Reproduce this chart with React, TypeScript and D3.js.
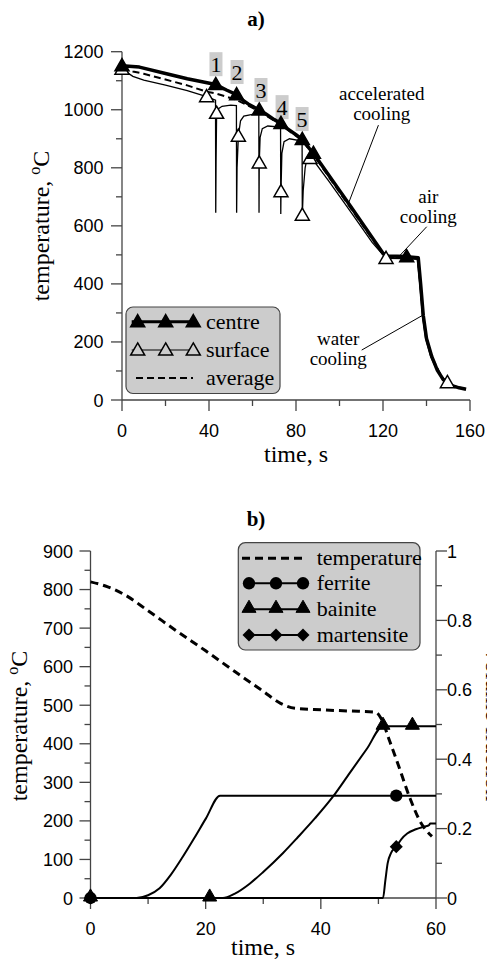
import React from "react";
import * as d3 from "d3";

const SERIF = "'Liberation Serif', 'Times New Roman', serif";
const SANS = "'Liberation Sans', Arial, sans-serif";

// ---------- Chart a) data ----------
const aXTicks = [0, 40, 80, 120, 160];
const aXMinor = [20, 60, 100, 140];
const aYTicks = [0, 200, 400, 600, 800, 1000, 1200];
const aYMinor = [100, 300, 500, 700, 900, 1100];

const centreLine: [number, number][] = [
  [0, 1152], [8, 1147], [20, 1125], [30, 1107], [43.1, 1087], [48, 1068], [52.7, 1052],
  [55, 1036], [58, 1020], [63.1, 999], [66, 986], [70, 966], [73.1, 953], [76, 935],
  [80, 914], [82.9, 898], [86, 868], [88, 850], [95, 775], [100, 722], [105, 668],
  [110, 614], [115, 560], [120, 506], [122, 496], [131, 494], [136.2, 490], [137.3, 400],
  [138.5, 292], [140, 212], [142.4, 150], [145, 102], [147.7, 70], [151, 51], [155, 42], [158.2, 37],
];
const centreMarkers: [number, number][] = [
  [0, 1152], [43.1, 1087], [52.7, 1052], [63.1, 999], [73.1, 953], [82.9, 898], [88, 850], [130.9, 494],
];

const surfaceLine: [number, number][] = [
  [0, 1140], [5, 1115], [10, 1102], [20, 1085], [30, 1066], [38.9, 1045], [43.0, 1033],
  [43.1, 645], [43.25, 820], [43.5, 988], [44.2, 1003], [46, 1012], [50, 1016], [52.6, 1014],
  [52.7, 645], [52.9, 800], [53.5, 909], [54.5, 962], [56, 978], [60, 984], [62.9, 985],
  [63.0, 645], [63.1, 817], [63.5, 905], [64.5, 935], [67, 944], [72.9, 940],
  [73.0, 641], [73.1, 718], [73.5, 850], [74.5, 890], [77, 900], [82.8, 892],
  [82.9, 631], [83.3, 720], [84.2, 800], [85, 830], [86.4, 832], [88, 826], [95, 755],
  [105, 650], [115, 543], [121.4, 488], [130, 487], [135.8, 485], [136.9, 400],
  [138.1, 292], [139.6, 212], [142, 148], [145, 100], [149.6, 60], [153, 47], [157, 40],
];
const surfaceMarkers: [number, number][] = [
  [0, 1140], [38.9, 1045], [43.5, 988], [53.5, 909], [63.1, 817], [73.1, 718], [82.9, 637],
  [86.4, 832], [121.4, 488], [149.6, 60],
];

const averageLine: [number, number][] = [
  [0, 1143], [5, 1132], [10, 1124], [20, 1104], [30, 1084], [38.9, 1062], [43.1, 1056],
  [52.7, 1034], [58, 1014], [63.1, 994], [73.1, 948], [82.9, 894], [88, 845], [120, 502],
  [122, 492], [136, 488], [137.1, 405], [138.3, 295], [140, 213], [142.4, 149],
  [147.7, 69], [152, 48], [158, 38],
];

const passNames = ["1", "2", "3", "4", "5"];
const passTimes = [43.2, 52.9, 63.9, 73.6, 82.8];
const passLabelT = [1157, 1130, 1068, 1009, 968];

const annotations = [
  { lines: ["accelerated", "cooling"], t: 119.4, T: [1033, 964], from: [117.9, 947], to: [104.1, 677] },
  { lines: ["air", "cooling"], t: 140.8, T: [679, 610], from: [140.1, 597], to: [127.9, 499] },
  { lines: ["water", "cooling"], t: 99.4, T: [190, 121], from: [110.2, 172], to: [138.5, 293] },
];

const aLegendItems = ["centre", "surface", "average"];

// ---------- Chart b) data ----------
const bXTicks = [0, 20, 40, 60];
const bXMinor = [10, 30, 50];
const bYTicks = [0, 100, 200, 300, 400, 500, 600, 700, 800, 900];
const bYMinor = [50, 150, 250, 350, 450, 550, 650, 750, 850];
const bRTicks = [0, 0.2, 0.4, 0.6, 0.8, 1];
const bRTickLabels = ["0", "0.2", "0.4", "0.6", "0.8", "1"];
const bRMinor = [0.1, 0.3, 0.5, 0.7, 0.9];

const temperatureB: [number, number][] = [
  [0, 820], [3, 807], [6, 786], [10, 745], [15, 692], [20, 641], [25, 588], [30, 536],
  [33, 505], [35.5, 492], [40, 488], [45, 485], [49.5, 482], [50.5, 465], [52, 405],
  [53.5, 343], [55.5, 258], [57.5, 192], [58.5, 172], [59.3, 160],
];
const ferriteB: [number, number][] = [
  [0, 0], [8, 0], [10, 0.008], [12, 0.028], [14, 0.068], [16, 0.118], [18, 0.172],
  [20, 0.228], [22.5, 0.295], [60, 0.295],
];
const bainiteB: [number, number][] = [
  [0, 0], [23, 0], [25, 0.012], [27.7, 0.042], [30, 0.075], [33.4, 0.129], [36, 0.175],
  [39, 0.23], [42.1, 0.292], [45, 0.36], [48, 0.43], [50.8, 0.495], [60, 0.495],
];
const martensiteB: [number, number][] = [
  [0, 0], [50.8, 0], [51.2, 0.05], [51.6, 0.1], [52.2, 0.13], [53.1, 0.148], [54, 0.17],
  [55, 0.186], [56.5, 0.198], [58, 0.206], [58.8, 0.21], [59, 0.215], [60, 0.215],
];
const ferriteMarkers: [number, number][] = [[0, 0], [53.1, 0.295]];
const bainiteMarkers: [number, number][] = [[0, 0], [20.7, 0], [50.8, 0.495], [55.9, 0.495]];
const martensiteMarkers: [number, number][] = [[0, 0], [53.1, 0.148]];
const bLegendItems = ["temperature", "ferrite", "bainite", "martensite"];

// ---------- scales ----------
const xA = d3.scaleLinear().domain([0, 160]).range([122, 470]);
const yA = d3.scaleLinear().domain([0, 1200]).range([400, 51.7]);
const xB = d3.scaleLinear().domain([0, 60]).range([90.5, 436]);
const yBL = d3.scaleLinear().domain([0, 900]).range([898, 551]);
const yBR = d3.scaleLinear().domain([0, 1]).range([898, 551]);

const AX = "#444";
const triPath = d3.symbol(d3.symbolTriangle, 85)() as string;
const circPath = d3.symbol(d3.symbolCircle, 120)() as string;
const sqPath = d3.symbol(d3.symbolSquare, 85)() as string;

function TempLabel({ x, y }: { x: number; y: number }) {
  return (
    <text transform={`translate(${x},${y}) rotate(-90)`} textAnchor="middle" style={{ fontFamily: SERIF }} fontSize={24} fill="#000">
      temperature,{" "}
      <tspan fontSize={16} dy={-9}>o</tspan>
      <tspan fontSize={24} dy={9}>C</tspan>
    </text>
  );
}

export default function App() {
  const lineA = d3.line<[number, number]>().x((d) => xA(d[0])).y((d) => yA(d[1]));
  const lineBL = d3.line<[number, number]>().x((d) => xB(d[0])).y((d) => yBL(d[1])).curve(d3.curveMonotoneX);
  const lineBR = d3.line<[number, number]>().x((d) => xB(d[0])).y((d) => yBR(d[1])).curve(d3.curveMonotoneX);

  const tri = (x: number, y: number, fill: string, key: string | number, sw = 1.5) => (
    <path key={key} d={triPath} transform={`translate(${x},${y + 1})`} fill={fill} stroke="#000" strokeWidth={sw} />
  );

  const aLegendY = [321.7, 350, 378];
  const bLegendY = [558.3, 583.3, 609.3, 635];
  const serif = { fontFamily: SERIF };
  const sans = { fontFamily: SANS };

  return (
    <svg width={487} height={965} style={{ position: "absolute", left: 0, top: 0, background: "#fff" }}>
      {/* ================= Chart a ================= */}
      <text x={256} y={26} textAnchor="middle" style={serif} fontWeight="bold" fontSize={21}>a)</text>

      {/* axes */}
      <line x1={xA(0)} x2={xA(0)} y1={yA(0)} y2={yA(1200)} stroke={AX} strokeWidth={1.3} />
      <line x1={xA(0)} x2={xA(160)} y1={yA(0)} y2={yA(0)} stroke={AX} strokeWidth={1.3} />
      {aYTicks.map((v) => (
        <g key={"ay" + v}>
          <line x1={xA(0) - 11} x2={xA(0)} y1={yA(v)} y2={yA(v)} stroke={AX} strokeWidth={1.3} />
          <text x={103.5} y={yA(v) + 6.5} textAnchor="end" style={sans} fontSize={18}>{v}</text>
        </g>
      ))}
      {aYMinor.map((v) => (
        <line key={"aym" + v} x1={xA(0) - 6} x2={xA(0)} y1={yA(v)} y2={yA(v)} stroke={AX} strokeWidth={1.3} />
      ))}
      {aXTicks.map((v) => (
        <g key={"ax" + v}>
          <line x1={xA(v)} x2={xA(v)} y1={yA(0)} y2={yA(0) + 11} stroke={AX} strokeWidth={1.3} />
          <text x={xA(v)} y={437} textAnchor="middle" style={sans} fontSize={18}>{v}</text>
        </g>
      ))}
      {aXMinor.map((v) => (
        <line key={"axm" + v} x1={xA(v)} x2={xA(v)} y1={yA(0)} y2={yA(0) + 6} stroke={AX} strokeWidth={1.3} />
      ))}
      <text x={296} y={462} textAnchor="middle" style={serif} fontSize={24}>time, s</text>
      <TempLabel x={49} y={226} />

      {/* pass labels */}
      {passNames.map((n, i) => (
        <g key={"pass" + n}>
          <rect x={xA(passTimes[i]) - 6.5} y={yA(passLabelT[i]) - 12} width={13} height={24} fill="#cccccc" />
          <text x={xA(passTimes[i])} y={yA(passLabelT[i]) + 8} textAnchor="middle" style={serif} fontSize={22}>{n}</text>
        </g>
      ))}

      {/* series */}
      <path d={lineA(averageLine) as string} fill="none" stroke="#000" strokeWidth={2} strokeDasharray="7,4" />
      <path d={lineA(surfaceLine) as string} fill="none" stroke="#000" strokeWidth={1.3} />
      <path d={lineA(centreLine) as string} fill="none" stroke="#000" strokeWidth={3.5} strokeLinejoin="round" />
      {surfaceMarkers.map((d, i) => tri(xA(d[0]), yA(d[1]), "#fff", "sm" + i))}
      {centreMarkers.map((d, i) => tri(xA(d[0]), yA(d[1]), "#000", "cm" + i))}

      {/* annotations */}
      {annotations.map((a, i) => (
        <g key={"ann" + i}>
          {a.lines.map((l, j) => (
            <text key={j} x={xA(a.t)} y={yA(a.T[j])} textAnchor="middle" style={serif} fontSize={19}>{l}</text>
          ))}
          <line x1={xA(a.from[0])} y1={yA(a.from[1])} x2={xA(a.to[0])} y2={yA(a.to[1])} stroke="#000" strokeWidth={1} />
        </g>
      ))}

      {/* legend a */}
      <rect x={126} y={307} width={154} height={86.5} rx={7} fill="#cccccc" stroke={AX} strokeWidth={1.2} />
      <line x1={131.7} x2={193.3} y1={aLegendY[0]} y2={aLegendY[0]} stroke="#000" strokeWidth={3} />
      {[137.7, 165.7, 193.3].map((x, i) => tri(x, aLegendY[0], "#000", "la" + i))}
      <line x1={131.7} x2={193.3} y1={aLegendY[1]} y2={aLegendY[1]} stroke="#000" strokeWidth={1.2} />
      {[137.7, 165.7, 193.3].map((x, i) => tri(x, aLegendY[1], "#ccc", "lb" + i))}
      <line x1={136} x2={193} y1={aLegendY[2]} y2={aLegendY[2]} stroke="#000" strokeWidth={2} strokeDasharray="7,4" />
      {aLegendItems.map((t, i) => (
        <text key={t} x={206} y={aLegendY[i] + 7} style={serif} fontSize={22}>{t}</text>
      ))}

      {/* ================= Chart b ================= */}
      <text x={256} y={526} textAnchor="middle" style={serif} fontWeight="bold" fontSize={21}>b)</text>

      <line x1={xB(0)} x2={xB(0)} y1={yBL(0)} y2={yBL(900)} stroke={AX} strokeWidth={1.3} />
      <line x1={xB(60)} x2={xB(60)} y1={yBR(0)} y2={yBR(1)} stroke={AX} strokeWidth={1.3} />
      <line x1={xB(0)} x2={xB(60)} y1={yBL(0)} y2={yBL(0)} stroke={AX} strokeWidth={1.3} />
      {bYTicks.map((v) => (
        <g key={"by" + v}>
          <line x1={xB(0) - 11} x2={xB(0)} y1={yBL(v)} y2={yBL(v)} stroke={AX} strokeWidth={1.3} />
          <text x={73} y={yBL(v) + 6.5} textAnchor="end" style={sans} fontSize={18}>{v}</text>
        </g>
      ))}
      {bYMinor.map((v) => (
        <line key={"bym" + v} x1={xB(0) - 6} x2={xB(0)} y1={yBL(v)} y2={yBL(v)} stroke={AX} strokeWidth={1.3} />
      ))}
      {bRTicks.map((v, i) => (
        <g key={"br" + v}>
          <line x1={xB(60)} x2={xB(60) + 11} y1={yBR(v)} y2={yBR(v)} stroke={AX} strokeWidth={1.3} />
          <text x={447} y={yBR(v) + 6.5} textAnchor="start" style={sans} fontSize={18}>{bRTickLabels[i]}</text>
        </g>
      ))}
      {bRMinor.map((v) => (
        <line key={"brm" + v} x1={xB(60)} x2={xB(60) + 6} y1={yBR(v)} y2={yBR(v)} stroke={AX} strokeWidth={1.3} />
      ))}
      {bXTicks.map((v) => (
        <g key={"bx" + v}>
          <line x1={xB(v)} x2={xB(v)} y1={yBL(0)} y2={yBL(0) + 11} stroke={AX} strokeWidth={1.3} />
          <text x={xB(v)} y={935} textAnchor="middle" style={sans} fontSize={18}>{v}</text>
        </g>
      ))}
      {bXMinor.map((v) => (
        <line key={"bxm" + v} x1={xB(v)} x2={xB(v)} y1={yBL(0)} y2={yBL(0) + 6} stroke={AX} strokeWidth={1.3} />
      ))}
      <text x={263} y={955} textAnchor="middle" style={serif} fontSize={24}>time, s</text>
      <TempLabel x={27} y={726} />
      <text transform={`translate(485.5,725) rotate(90)`} textAnchor="middle" style={serif} fontSize={24}>volume fraction</text>

      {/* series b */}
      <path d={lineBR(ferriteB) as string} fill="none" stroke="#000" strokeWidth={2} />
      <path d={lineBR(bainiteB) as string} fill="none" stroke="#000" strokeWidth={2} />
      <path d={lineBR(martensiteB) as string} fill="none" stroke="#000" strokeWidth={2} />
      <path d={lineBL(temperatureB) as string} fill="none" stroke="#000" strokeWidth={3} strokeDasharray="8,5" />
      {ferriteMarkers.map((d, i) => (
        <path key={"fm" + i} d={circPath} transform={`translate(${xB(d[0])},${yBR(d[1])})`} fill="#000" />
      ))}
      {bainiteMarkers.map((d, i) => tri(xB(d[0]), yBR(d[1]) - 2, "#000", "bm" + i, 1))}
      {martensiteMarkers.map((d, i) => (
        <path key={"mm" + i} d={sqPath} transform={`translate(${xB(d[0])},${yBR(d[1])}) rotate(45)`} fill="#000" />
      ))}

      {/* legend b */}
      <rect x={238.3} y={542.7} width={181.7} height={107.3} rx={7} fill="#cccccc" stroke={AX} strokeWidth={1.2} />
      <line x1={242} x2={303} y1={bLegendY[0]} y2={bLegendY[0]} stroke="#000" strokeWidth={3} strokeDasharray="8,5" />
      {[1, 2, 3].map((r) => (
        <line key={"bl" + r} x1={249} x2={303} y1={bLegendY[r]} y2={bLegendY[r]} stroke="#000" strokeWidth={2} />
      ))}
      {[249, 276, 303].map((x, i) => (
        <g key={"blm" + i}>
          <path d={circPath} transform={`translate(${x},${bLegendY[1]})`} fill="#000" />
          {tri(x, bLegendY[2] - 2, "#000", "blt" + i, 1)}
          <path d={sqPath} transform={`translate(${x},${bLegendY[3]}) rotate(45)`} fill="#000" />
        </g>
      ))}
      {bLegendItems.map((t, i) => (
        <text key={t} x={316.7} y={bLegendY[i] + 7} style={serif} fontSize={22}>{t}</text>
      ))}
    </svg>
  );
}
